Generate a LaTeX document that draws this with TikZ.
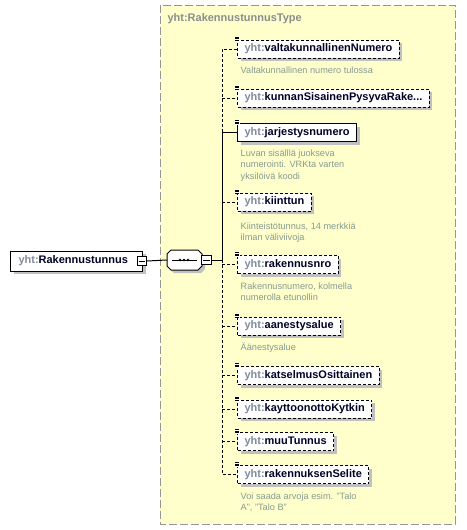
\documentclass[tikz,border=0pt]{standalone}
\usepackage{fontspec}
\setmainfont{Liberation Sans}
\usetikzlibrary{shadows}
\definecolor{nsgray}{RGB}{128,140,155}
\definecolor{namecol}{RGB}{0,0,40}
\definecolor{desccol}{RGB}{135,155,145}
\definecolor{titlegray}{RGB}{140,140,140}
\definecolor{yellowbg}{RGB}{255,255,204}
\definecolor{bordergray}{RGB}{150,150,150}
\definecolor{shadowgray}{RGB}{192,192,192}
\begin{document}
\begin{tikzpicture}[x=1pt,y=-1pt,
  shd/.style={drop shadow={shadow xshift=3pt,shadow yshift=-3pt,fill=shadowgray,opacity=1}},
  el/.style={draw=black, fill=white, line width=1pt, anchor=west, minimum height=18pt,
    inner xsep=7pt, inner ysep=0pt, text=namecol,
    font=\fontsize{11}{13}\selectfont\bfseries, shd},
  opt/.style={el, dash pattern=on 3pt off 2pt},
  desc/.style={anchor=north west, inner sep=0pt, align=left,
    font=\fontsize{9.2}{11.1}\selectfont, text=desccol},
  conn/.style={line width=1pt},
  dconn/.style={conn, dash pattern=on 3pt off 2pt},
  minusbox/.style={draw=black, fill=white, line width=0.8pt, minimum size=9.5pt, inner sep=0pt},
  icon/.style={line width=0.7pt}]
\useasboundingbox (0,0) rectangle (466,530);
% container
\draw[draw=bordergray, fill=yellowbg, line width=1pt, dash pattern=on 8pt off 3pt] (160,5) rectangle (455,524);
\node[anchor=west, text=titlegray, font=\fontsize{11}{13}\selectfont\bfseries] (title) at (164,19) {yht:RakennustunnusType};
% root element
\node[el, minimum height=20pt, inner xsep=8pt] (root) at (10,261) {\textcolor{nsgray}{yht:}Rakennustunnus\hspace*{7pt}};
\node[minusbox] (rm) at ([xshift=-1.5pt]root.east) {};
\draw[line width=0.8pt] ([xshift=2pt]rm.west) -- ([xshift=-2pt]rm.east);
% sequence compositor
\node[minimum width=35pt, minimum height=20pt, inner sep=0pt] (seq) at (184.5,260) {};
\fill[shadowgray] (170,257) -- (174,253) -- (201,253) -- (205,257) -- (205,269) -- (201,273) -- (174,273) -- (170,269) -- cycle;
\draw[line width=1pt, fill=white] (167,254) -- (171,250) -- (198,250) -- (202,254) -- (202,266) -- (198,270) -- (171,270) -- (167,266) -- cycle;
\draw[line width=0.8pt] (172,260) -- (197,260);
\foreach \xx in {180,184,188} \fill (\xx,260) circle (1.4pt);
\node[minusbox] (sm) at (206.5,260) {};
\draw[line width=0.8pt] ([xshift=2pt]sm.west) -- ([xshift=-2pt]sm.east);
\draw[conn] (rm.east) -- (seq.west);
\coordinate (sp) at (222,260);
\draw[conn] (sm.east) -- (sp);
% children
\node[opt] (c1) at (237,49) {\textcolor{nsgray}{yht:}valtakunnallinenNumero};
\node[opt] (c2) at (237,98) {\textcolor{nsgray}{yht:}kunnanSisainenPysyvaRake...};
\node[el]  (c3) at (237,132.5) {\textcolor{nsgray}{yht:}jarjestysnumero};
\node[opt] (c4) at (237,202) {\textcolor{nsgray}{yht:}kiinttun};
\node[opt] (c5) at (237,264.5) {\textcolor{nsgray}{yht:}rakennusnro};
\node[opt] (c6) at (237,326) {\textcolor{nsgray}{yht:}aanestysalue};
\node[opt] (c7) at (237,375.5) {\textcolor{nsgray}{yht:}katselmusOsittainen};
\node[opt] (c8) at (237,409) {\textcolor{nsgray}{yht:}kayttoonottoKytkin};
\node[opt] (c9) at (237,441.5) {\textcolor{nsgray}{yht:}muuTunnus};
\node[opt] (c10) at (237,474.5) {\textcolor{nsgray}{yht:}rakennuksenSelite};
\foreach \n in {c1,c2,c3,c4,c5,c6,c7,c8,c9,c10} {
  \fill[white] ([xshift=-2.5pt,yshift=3pt]\n.north west) rectangle ([xshift=2.5pt,yshift=-1.5pt]\n.north west);
  \foreach \d in {2.5,1,-0.5}
    \draw[icon] ([xshift=-2pt,yshift=\d pt]\n.north west) -- ([xshift=2pt,yshift=\d pt]\n.north west);
}
% descriptions
\node[desc] (d1) at (240.5,67) {Valtakunnallinen numero tulossa};
\node[desc] (d3) at (240.5,150) {Luvan sisälllä juokseva\\numerointi. VRKta varten\\yksilöivä koodi};
\node[desc] (d4) at (240.5,222.5) {Kiinteistötunnus, 14 merkkiä\\ilman väliviivoja};
\node[desc] (d5) at (240.5,283) {Rakennusnumero, kolmella\\numerolla etunollin};
\node[desc] (d6) at (240.5,342.5) {Äänestysalue};
\node[desc] (d10) at (240.5,493) {Voi saada arvoja esim. "Talo\\A", "Talo B"};
% connectors
\draw[dconn] (c1.west) -- (c1.west -| sp) -- (c3.west -| sp);
\draw[conn] (c3.west -| sp) -- (sp);
\draw[conn] (c3.west -| sp) -- (c3.west);
\draw[dconn] (sp) -- (c10.west -| sp) -- (c10.west);
\foreach \n in {c2,c4,c5,c6,c7,c8,c9} \draw[dconn] (\n.west -| sp) -- (\n.west);
\end{tikzpicture}
\end{document}
